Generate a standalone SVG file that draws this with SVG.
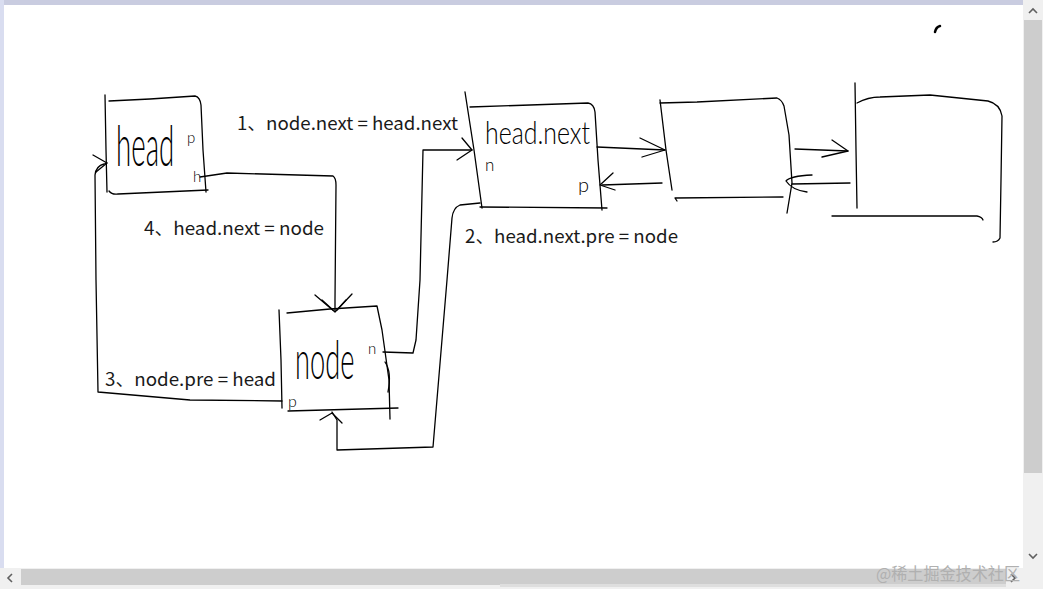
<svg xmlns="http://www.w3.org/2000/svg" width="1043" height="589" viewBox="0 0 1043 589">
<style>
.ln{fill:none;stroke:#000;stroke-width:1.3;stroke-linecap:round;stroke-linejoin:round}
.lbl{font-family:"Noto Sans CJK SC","Liberation Sans",sans-serif;font-size:18px;fill:#1a1a1a}
.hw{font-family:"Lato","DejaVu Sans",sans-serif;font-weight:300;fill:#000}
.sb{fill:none;stroke:#606060;stroke-width:1.6}
</style>
<rect width="1043" height="589" fill="#fff"/>
<rect x="0" y="0" width="1023" height="5" fill="#c9cce0"/>
<rect x="0" y="0" width="4" height="568" fill="#d9ddf0"/>
<!-- vertical scrollbar -->
<rect x="1023" y="0" width="20" height="569" fill="#f0f0f0"/>
<rect x="1024" y="20" width="18" height="453" fill="#cdcdcd"/>
<path class="sb" d="M1029 13 L1033 9 L1037 13"/>
<path class="sb" d="M1029 554 L1033 558 L1037 554"/>
<!-- horizontal scrollbar -->
<rect x="0" y="568" width="1023" height="21" fill="#f0f0f0"/>
<rect x="21" y="569" width="985" height="16" fill="#cdcdcd"/>
<rect x="500" y="584" width="506" height="3" fill="#dedede"/>
<path class="sb" d="M12 574 L8 578 L12 582"/>
<path class="sb" d="M1011 574 L1015 578 L1011 582"/>
<rect x="1023" y="568" width="20" height="21" fill="#f0f0f0"/>
<text x="876" y="580" textLength="144" lengthAdjust="spacingAndGlyphs" style="font-family:'Noto Sans CJK SC',sans-serif;font-size:17px;fill:#b0b0b0">@稀土掘金技术社区</text>
<!-- stray mark -->
<path d="M935 32 Q936 27 940 26" style="fill:none;stroke:#000;stroke-width:2.5;stroke-linecap:round"/>

<g id="node-head">
<path class="ln" d="M105 95 L106 150 L107 192"/>
<path class="ln" d="M109 101 L150 99 L195 96 Q200 97 201 105 L203 150 L206 192"/>
<path class="ln" d="M109 191 Q112 195 118 194 L208 190"/>
<text class="hw" transform="translate(116 166) scale(0.47 1)" x="0" y="0" font-size="58" textLength="124" lengthAdjust="spacingAndGlyphs">head</text>
<text class="hw" x="187" y="143" font-size="15">p</text>
<text class="hw" x="193" y="182" font-size="15">h</text>
</g>

<g id="node-headnext">
<path class="ln" d="M465 92 L474 150 L482 208"/>
<path class="ln" d="M470 107 L530 105 L588 103 Q594 104 595 112 L598 160 L602 210"/>
<path class="ln" d="M480 207 L607 208"/>
<text class="hw" x="485" y="144" font-size="32" textLength="105" lengthAdjust="spacingAndGlyphs">head.next</text>
<text class="hw" x="485" y="171" font-size="17">n</text>
<text class="hw" x="578" y="192" font-size="20">p</text>
</g>

<g id="node-3">
<path class="ln" d="M660 100 L666 150 L672 190"/>
<path class="ln" d="M660 103 L697 102 L777 98 Q782 100 784 106 L789 135 L792 183 L787 213"/>
<path class="ln" d="M675 198 L677 201 M675 198 L783 197"/>
</g>

<g id="node-4">
<path class="ln" d="M855 83 L856 150 L857 208"/>
<path class="ln" d="M857 103 Q868 97 880 97 L930 95 L988 101 Q1000 104 1002 116 L1001 180 L1000 238 Q998 242 993 242"/>
<path class="ln" d="M832 216 L977 216 Q982 217 983 220"/>
</g>

<g id="node-node">
<path class="ln" d="M279 310 L281 360 L282 408"/>
<path class="ln" d="M287 313 L330 309 L377 306 L382 330 L389 380 L390 419"/>
<path class="ln" d="M288 411 L398 408"/>
<path class="ln" d="M385 362 Q392 372 388 392"/>
<text class="hw" transform="translate(295 379) scale(0.5 1)" x="0" y="0" font-size="54" textLength="119" lengthAdjust="spacingAndGlyphs">node</text>
<text class="hw" x="288" y="407" font-size="16">p</text>
<text class="hw" x="368" y="354" font-size="15">n</text>
</g>

<g id="connectors">
<path class="ln" d="M200 177 L227 173 L333 176 Q336 178 336 185 L335 300 L335 311"/>
<path class="ln" d="M315 295 L335 312 L352 294"/>
<path class="ln" d="M322 300 L333 310 M346 300 L337 310"/>
<path class="ln" d="M383 352 L413 353 L416 340 L420 280 L423 150 L472 150"/>
<path class="ln" d="M457 160 L472 150 L462 138"/>
<path class="ln" d="M480 203 L460 205 Q453 208 452 218 L447 280 L433 447 L337 450 L337 420 L332 412"/>
<path class="ln" d="M320 420 L332 413 L342 423"/>
<path class="ln" d="M282 401 L190 400 L98 392 L96 280 L95 175 Q96 166 104 164 L107 163"/>
<path class="ln" d="M93 155 L107 163 L96 172"/>
<path class="ln" d="M597 147 L665 150"/>
<path class="ln" d="M640 138 L665 150 L642 157"/>
<path class="ln" d="M662 183 L602 185"/>
<path class="ln" d="M613 173 L600 185 L615 190"/>
<path class="ln" d="M795 149 L848 151"/>
<path class="ln" d="M832 140 L848 151 L822 157"/>
<path class="ln" d="M850 183 L792 184"/>
<path class="ln" d="M812 175 Q790 176 786 181 Q792 190 807 192"/>
</g>

<g id="labels">
<text class="lbl" x="237" y="130" textLength="221" lengthAdjust="spacingAndGlyphs">1、node.next = head.next</text>
<text class="lbl" x="144" y="235" textLength="180" lengthAdjust="spacingAndGlyphs">4、head.next = node</text>
<text class="lbl" x="465" y="243" textLength="213" lengthAdjust="spacingAndGlyphs">2、head.next.pre = node</text>
<text class="lbl" x="105" y="386" textLength="171" lengthAdjust="spacingAndGlyphs">3、node.pre = head</text>
</g>
</svg>
